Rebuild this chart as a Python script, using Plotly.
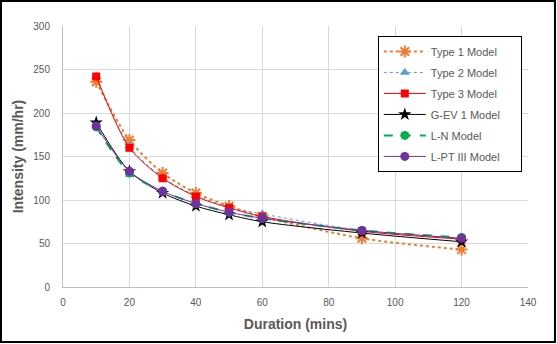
import plotly.graph_objects as go

durations = [10, 20, 30, 40, 50, 60, 90, 120]
type1 = [236, 169, 131, 108, 93, 81, 56, 43]
type2 = [242, 162, 126, 105, 92, 84, 65, 56]
type3 = [242, 160, 125, 104, 91, 81, 64, 55]
gev1 = [189, 133, 108, 93, 83, 75, 62, 52]
ln = [184, 131, 110, 96, 86, 79, 65, 57]
lpt3 = [185, 133, 110, 96, 86, 79, 65, 56]

series = [
    ("Type 1 Model", type1, "#ED7D31", "dot", "asterisk-open", 10, 2),
    ("Type 2 Model", type2, "#5B9BD5", "dot", "triangle-up", 9, 1),
    ("Type 3 Model", type3, "#FF0000", "solid", "square", 8, 1),
    ("G-EV 1 Model", gev1, "#000000", "solid", "star", 10, 1),
    ("L-N Model", ln, "#00B050", "dash", "circle", 9, 2),
    ("L-PT III Model", lpt3, "#7030A0", "solid", "circle", 9, 1),
]

PAD = "\u00a0" * 5

fig = go.Figure()
for i, (name, vals, color, dash, sym, size, lw) in enumerate(series):
    fig.add_trace(go.Scatter(
        x=durations, y=vals, name=name + PAD, mode="lines+markers", legendgroup=f"g{i}",
        line=dict(color=color, dash=dash, width=lw, shape="spline", smoothing=0.8),
        marker=dict(symbol=sym, size=size, color=color,
                    line=dict(color=color, width=2 if sym == "asterisk-open" else 0)),
    ))

tickfont = dict(family="Liberation Sans, Arial, sans-serif", size=10, color="#595959")
titlefont = dict(family="Liberation Sans, Arial, sans-serif", size=14, color="#595959")

fig.update_layout(
    width=557, height=344,
    margin=dict(l=63, r=29, t=26, b=57),
    paper_bgcolor="white", plot_bgcolor="white",
    showlegend=True,
    legend=dict(x=0.677, y=0.962, xanchor="left", yanchor="top",
                bordercolor="#000000", borderwidth=1, bgcolor="white",
                font=dict(family="Liberation Sans, Arial, sans-serif", size=11, color="#595959"),
                tracegroupgap=2, itemwidth=42),
    xaxis=dict(range=[0, 140], dtick=20, tick0=0, showgrid=True, gridcolor="#d9d9d9",
               showline=True, linecolor="#bfbfbf", zeroline=False, ticks="",
               tickfont=tickfont, ticklabelstandoff=6,
               title=dict(text="<b>Duration (mins)</b>", font=titlefont, standoff=12)),
    yaxis=dict(range=[0, 300], dtick=50, tick0=0, showgrid=True, gridcolor="#d9d9d9",
               showline=True, linecolor="#bfbfbf", zeroline=False, ticks="",
               tickfont=tickfont, ticklabelstandoff=10,
               title=dict(text="<b>Intensity (mm/hr)</b>", font=titlefont, standoff=6)),
    shapes=[dict(type="rect", xref="paper", yref="paper",
                 x0=-0.1333, x1=1.058, y0=-0.2107, y1=1.0958,
                 line=dict(color="#000000", width=2), fillcolor="rgba(0,0,0,0)", layer="above")],
)

fig.write_html("out.html")
